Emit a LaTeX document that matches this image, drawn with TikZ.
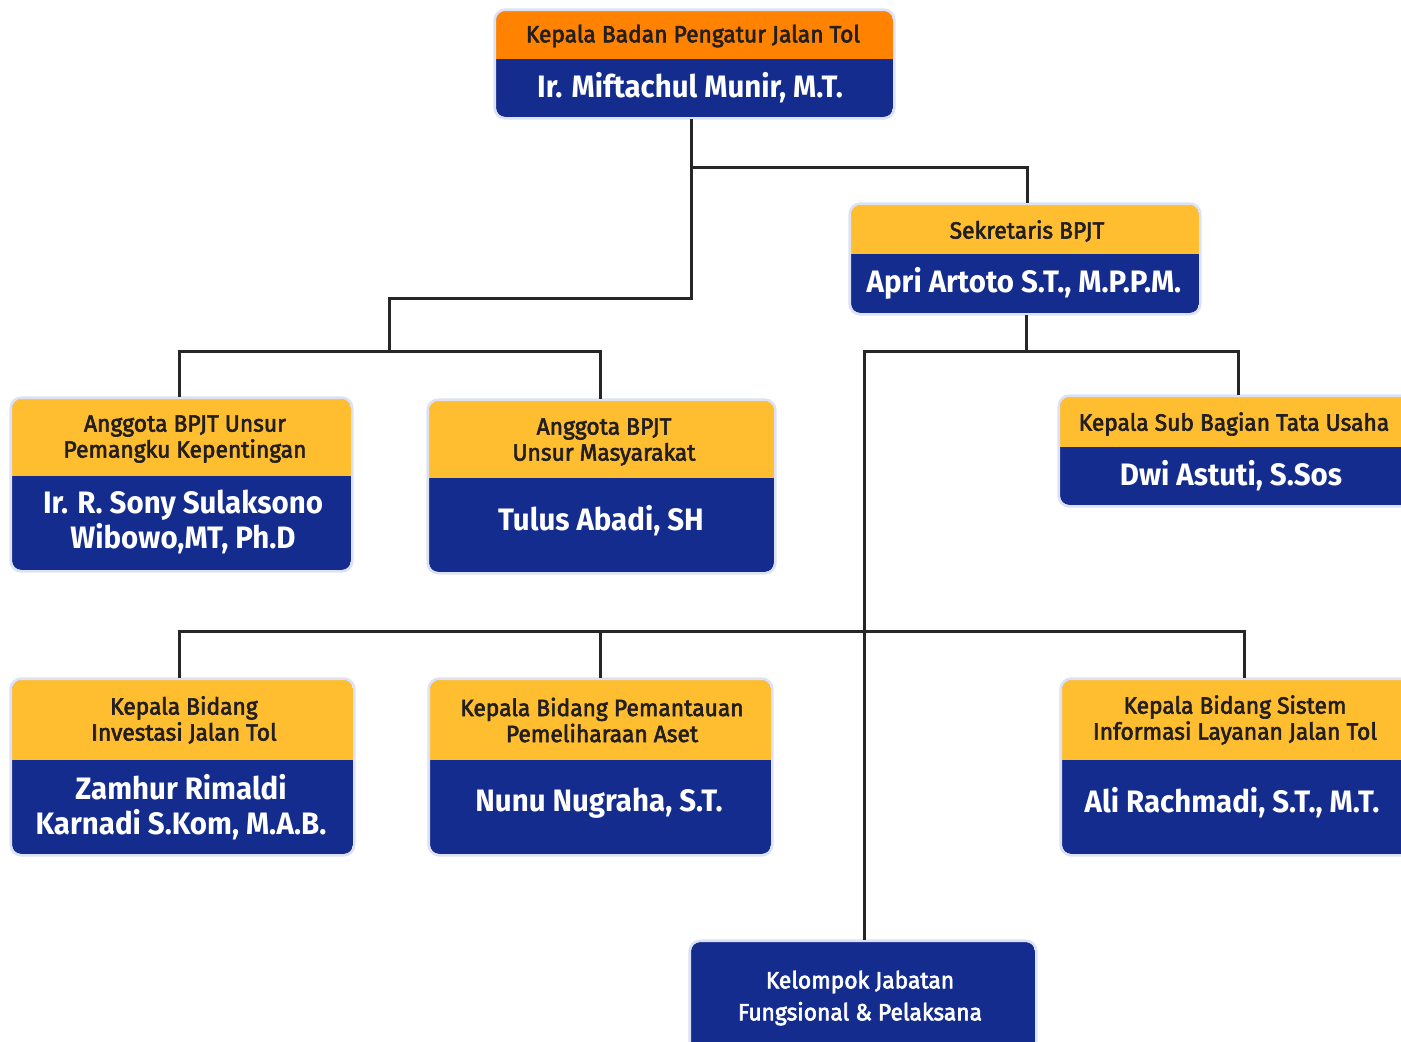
\documentclass[tikz,border=0pt]{standalone}
\usepackage{fontspec}
\setmainfont{Fira Sans}[FakeStretch=0.9]
\newfontfamily\hdrfont{Fira Sans}[FakeStretch=0.97, FakeBold=2.6]
\newfontfamily\nmfont{Fira Sans}[FakeStretch=0.95]
\usetikzlibrary{fit,calc}
\definecolor{bblue}{HTML}{142C8E}
\definecolor{borange}{HTML}{FF8300}
\definecolor{byellow}{HTML}{FFBE30}
\definecolor{blav}{HTML}{DCE2F4}
\definecolor{bline}{HTML}{262626}
\definecolor{btext}{HTML}{231F20}
\newcommand\obox[7]{% name, x1, y1, x2, y2, ysplit, header colour
  \begin{scope}
    \clip[rounded corners=9pt] (#2,#3) rectangle (#4,#5);
    \fill[bblue] (#2,#3) rectangle (#4,#5);
    \fill[#7] (#2,#3) rectangle (#4,#6);
  \end{scope}
  \draw[blav, line width=2.6pt, rounded corners=10.5pt] (#2,#3) ++(-1.3,-1.3) rectangle ($(#4,#5)+(1.3,1.3)$);
  \coordinate (#1-nw) at (#2,#3);
  \coordinate (#1-se) at (#4,#5);
  \node[fit=(#1-nw)(#1-se), inner sep=0pt, outer sep=2pt] (#1) {};
}
\tikzset{
  conn/.style={bline, line width=3pt},
  hdr/.style={text=btext, font=\hdrfont\fontsize{23.5}{26}\selectfont, align=center, inner sep=0pt},
  nm/.style={text=white, font=\nmfont\bfseries\fontsize{31}{35}\selectfont, align=center, inner sep=0pt},
}
\begin{document}
\begin{tikzpicture}[x=1pt,y=-1pt]
\useasboundingbox (0,0) rectangle (1401,1042);
\clip (0,0) rectangle (1401,1042);
\fill[white] (0,0) rectangle (1401,1042);
% connector junctions
\coordinate (jA) at (691,298);
\coordinate (jB) at (389,351);
\coordinate (jS) at (691,167);
\coordinate (jC) at (1026,351);
\coordinate (jD) at (864,631);
% boxes
\obox{top}{496}{11}{893}{117}{59}{borange}
\obox{sek}{851}{205}{1199}{313}{254}{byellow}
\obox{a1}{12}{399}{351}{570}{476}{byellow}
\obox{a2}{429}{401}{774}{572}{478}{byellow}
\obox{sub}{1060}{397}{1416}{505}{447}{byellow}
\obox{b1}{12}{680}{353}{854}{760}{byellow}
\obox{b2}{430}{680}{771}{854}{760}{byellow}
\obox{b3}{1062}{680}{1426}{854}{760}{byellow}
\obox{kel}{691}{942}{1035}{1070}{942}{bblue}
% connectors
\draw[conn] (top.south -| jA) -- (jA) -| (jB);
\draw[conn] (a1.north -| 179,0) |- (jB) -| (a2.north -| 600,0);
\draw[conn] (jS) -| (sek.north -| 1027,0);
\draw[conn] (sek.south -| jC) -- (jC);
\draw[conn] (kel.north -| 864,0) |- (jC) -| (sub.north);
\draw[conn] (b1.north -| 179,0) |- (jD) -| (b3.north);
\draw[conn] (b2.north -| 600,0) -- (jD -| 600,0);
% texts
\node[hdr] (top-h) at (693,36) {Kepala Badan Pengatur Jalan Tol};
\node[nm] (top-n) at (690,88) {Ir. Miftachul Munir, M.T.};
\node[hdr] (sek-h) at (1027,231) {Sekretaris BPJT};
\node[nm] (sek-n) at (1024,283) {Apri Artoto S.T., M.P.P.M.};
\node[hdr] (a1-h) at (185,439) {Anggota BPJT Unsur\\Pemangku Kepentingan};
\node[nm] (a1-n) at (183,522) {Ir. R. Sony Sulaksono\\Wibowo,MT, Ph.D};
\node[hdr] (a2-h) at (604,442) {Anggota BPJT\\Unsur Masyarakat};
\node[nm] (a2-n) at (601,521) {Tulus Abadi, SH};
\node[hdr] (sub-h) at (1234,424) {Kepala Sub Bagian Tata Usaha};
\node[nm] (sub-n) at (1231,476) {Dwi Astuti, S.Sos};
\node[hdr] (b1-h) at (184,720) {Kepala Bidang\\Investasi Jalan Tol};
\node[nm] (b1-n) at (181,807) {Zamhur Rimaldi\\Karnadi S.Kom, M.A.B.};
\node[hdr] (b2-h) at (602,720) {Kepala Bidang Pemantauan\\Pemeliharaan Aset};
\node[nm] (b2-n) at (599,803) {Nunu Nugraha, S.T.};
\node[hdr] (b3-h) at (1235,720) {Kepala Bidang Sistem\\Informasi Layanan Jalan Tol};
\node[nm] (b3-n) at (1232,803) {Ali Rachmadi, S.T., M.T.};
\node[hdr, text=white, font=\hdrfont\fontsize{23.5}{32}\selectfont] (kel-t) at (860,998) {Kelompok Jabatan\\Fungsional \& Pelaksana};
\end{tikzpicture}
\end{document}
